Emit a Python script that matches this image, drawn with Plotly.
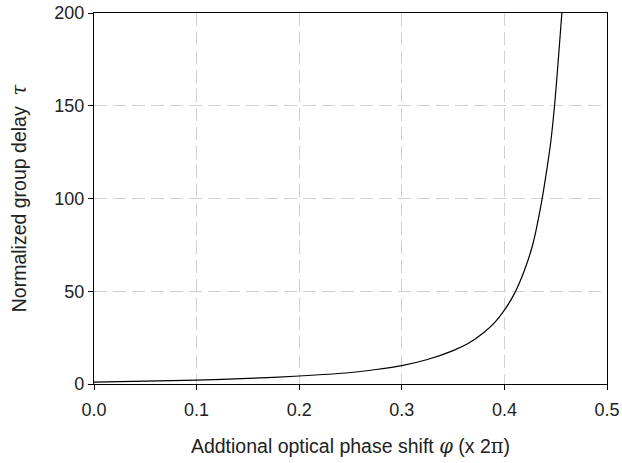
import plotly.graph_objects as go

phase_shift = [0.0, 0.05, 0.1, 0.15, 0.2, 0.25, 0.275, 0.3, 0.325, 0.35, 0.365, 0.38,
               0.39, 0.4, 0.41, 0.42, 0.428, 0.4365, 0.442, 0.4453, 0.4492, 0.4527, 0.456]
group_delay = [1.0, 1.5, 2.1, 3.0, 4.3, 6.2, 7.8, 9.9, 13.2, 18.0, 22.0, 27.8,
               32.8, 39.8, 49.0, 62.0, 76.0, 99.0, 118.0, 131.0, 152.0, 176.0, 200.0]

x_ticks = [0.0, 0.1, 0.2, 0.3, 0.4, 0.5]
x_tick_labels = ["0.0", "0.1", "0.2", "0.3", "0.4", "0.5"]
y_ticks = [0, 50, 100, 150, 200]

serif = "font-family:'DejaVu Serif','Liberation Serif',serif"

fig = go.Figure()
fig.add_trace(go.Scatter(x=phase_shift, y=group_delay, mode="lines",
                         line=dict(color="black", width=1.2, shape="spline", smoothing=0.6),
                         showlegend=False))

axis_common = dict(showline=True, linecolor="black", linewidth=1.2, mirror=True,
                   ticks="outside", ticklen=5, tickcolor="black", tickwidth=1,
                   showgrid=True, gridcolor="#d0d0d0", griddash="13px,6px", gridwidth=1,
                   zeroline=False, automargin=False, tickfont=dict(size=18, color="#222"))

fig.update_xaxes(range=[0, 0.5], tickvals=x_ticks, ticktext=x_tick_labels, ticklabelstandoff=4,
                 title=dict(text=f"Addtional optical phase shift <span style=\"{serif}\"><i>φ</i></span> (x 2<span style=\"{serif}\">π</span>)",
                            font=dict(size=19.5, color="#222"), standoff=20),
                 **axis_common)
fig.update_yaxes(range=[0, 200], tickvals=y_ticks,
                 title=dict(text=f"Normalized group delay  <span style=\"{serif}\"><i>τ</i></span>",
                            font=dict(size=19.5, color="#222"), standoff=22),
                 **axis_common)

fig.update_layout(width=622, height=463, margin=dict(l=94, r=15, t=13, b=79, autoexpand=False),
                  plot_bgcolor="white", paper_bgcolor="white",
                  font=dict(family="Liberation Sans, Arial, sans-serif"))

fig.write_html("out.html", config={"displayModeBar": False},
               post_script="document.body.style.margin='0';")
